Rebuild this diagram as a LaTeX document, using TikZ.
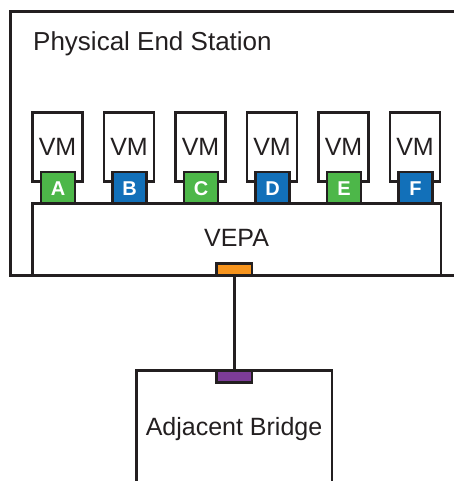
\documentclass[tikz,border=0pt]{standalone}
\usepackage{fontspec}
\setmainfont{Liberation Sans}
\definecolor{ink}{HTML}{231F20}
\definecolor{portgreen}{HTML}{4DB749}
\definecolor{portblue}{HTML}{1270B9}
\definecolor{portorange}{HTML}{F7941D}
\definecolor{portpurple}{HTML}{7D3C98}
\tikzset{
  wire/.style={draw=ink, line width=2.9pt},
  vmbox/.style={wire, fill=white, minimum width=50pt, minimum height=69pt, inner sep=0pt},
  vport/.style={wire, minimum width=34pt, minimum height=31.5pt, inner sep=0pt},
  portletter/.style={text=white, inner sep=0pt, anchor=base, font=\fontsize{20}{20}\selectfont\bfseries},
  uplink/.style={wire, minimum width=35.5pt, minimum height=12pt, inner sep=0pt},
  label/.style={text=ink, inner sep=0pt, font=\fontsize{25}{25}\selectfont},
}
\begin{document}
\begin{tikzpicture}[x=1pt, y=-1pt]
\useasboundingbox (0,0) rectangle (454,481);

% physical end station, running off the right edge
\draw[wire, line join=miter] (454,11.3) -- (10.3,11.3) -- (10.3,275.3) -- (454,275.3);
\node[label, anchor=base west, font=\fontsize{26}{26}\selectfont] (station) at (33,51) {Physical End Station};

% virtual machines with their ports
\foreach \i/\l/\c in {0/A/portgreen, 1/B/portblue, 2/C/portgreen, 3/D/portblue, 4/E/portgreen, 5/F/portblue} {
  \pgfmathsetmacro{\cx}{57.5+71.5*\i}
  \node[vmbox] (vm\l) at (\cx,147) {};
  \node[label, anchor=base] (vmt\l) at (\cx,156) {VM};
  \node[vport, fill=\c] (p\l) at (\cx+0.5,187.7) {};
  \node[portletter] (pt\l) at (\cx+0.5,195.5) {\l};
}

% VEPA
\node[wire, fill=none, minimum width=408.5pt, minimum height=71.8pt, inner sep=0pt] (vepa) at (236.75,239.4) {};
\node[label, anchor=base] (vepat) at (236.5,246) {VEPA};
\node[uplink, fill=portorange] (up) at (234.2,269.4) {};

% adjacent bridge, running off the bottom edge
\draw[wire, line join=miter] (136.5,481) -- (136.5,370.5) -- (332,370.5) -- (332,481);
\node[label, anchor=base] (bridge) at (234,435) {Adjacent Bridge};
\node[uplink, fill=portpurple] (down) at (234.2,376.2) {};

% link between VEPA uplink and bridge port
\draw[wire] (up.south) -- (down.north);
\end{tikzpicture}
\end{document}
